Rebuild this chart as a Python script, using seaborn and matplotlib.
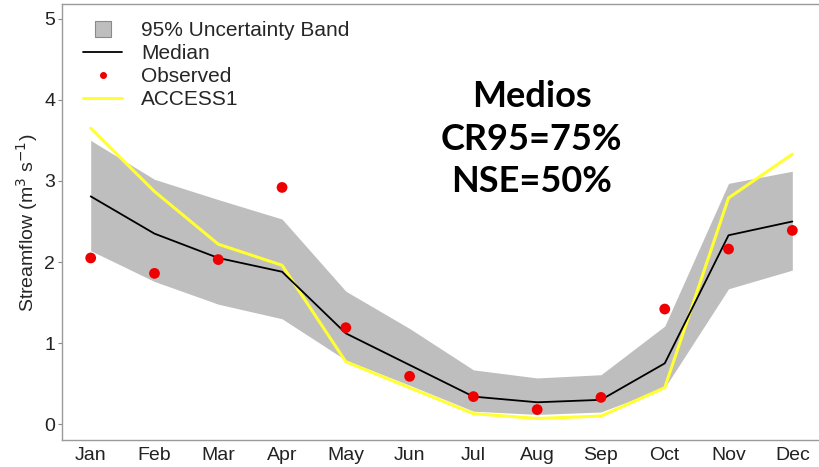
import pandas as pd
import numpy as np
import matplotlib.pyplot as plt
import seaborn as sns
from matplotlib.lines import Line2D

sns.set_theme(style="white")
plt.rcParams['font.family'] = ['Liberation Sans', 'DejaVu Sans']

# =========================
# DATA
# =========================
months = ["Jan", "Feb", "Mar", "Apr", "May", "Jun",
          "Jul", "Aug", "Sep", "Oct", "Nov", "Dec"]
band_upper = [3.50, 3.02, 2.77, 2.53, 1.64, 1.18, 0.67, 0.57, 0.61, 1.21, 2.97, 3.12]
band_lower = [2.14, 1.76, 1.48, 1.30, 0.79, 0.48, 0.16, 0.12, 0.15, 0.45, 1.67, 1.90]
median = [2.81, 2.35, 2.05, 1.88, 1.12, 0.73, 0.34, 0.27, 0.30, 0.75, 2.33, 2.50]
access1 = [3.65, 2.87, 2.22, 1.96, 0.77, 0.45, 0.13, 0.07, 0.10, 0.45, 2.79, 3.33]
observed = [2.05, 1.86, 2.03, 2.92, 1.19, 0.59, 0.34, 0.18, 0.33, 1.42, 2.16, 2.39]

df = pd.DataFrame({
    "month": np.arange(1, 13),
    "upper": band_upper,
    "lower": band_lower,
    "median": median,
    "access1": access1,
    "observed": observed,
})

# =========================
# PLOT
# =========================
fig = plt.figure(figsize=(8.19, 4.67), dpi=100)
ax = fig.add_axes([0.0757, 0.057, 0.94, 0.934])

ax.fill_between(df["month"], df["lower"], df["upper"], color="#bebebe", lw=0, zorder=1)
sns.lineplot(data=df, x="month", y="median", color="black", lw=1.3, ax=ax, zorder=3)
sns.lineplot(data=df, x="month", y="access1", color="#ffff33", lw=2.2, ax=ax, zorder=2)
sns.scatterplot(data=df, x="month", y="observed", color="#ee0000", s=60,
                edgecolor="none", ax=ax, zorder=4)

ax.set_xlim(0.55, 12.62)
ax.set_ylim(-0.2, 5.18)
ax.set_xticks(df["month"])
ax.set_xticklabels(months)
ax.set_yticks([0, 1, 2, 3, 4, 5])
ax.tick_params(axis="both", labelsize=14, colors="#222222")
ax.tick_params(axis="y", left=True, length=3, width=0.8, color="#888888", pad=2)
ax.tick_params(axis="x", bottom=False, pad=-1.5)
ax.set_xlabel("")
ax.set_ylabel("Streamflow (m$^3$ s$^{-1}$)", fontsize=14, labelpad=3)

for side in ["left", "bottom", "top", "right"]:
    ax.spines[side].set_color("#9a9a9a")
    ax.spines[side].set_linewidth(1.0)

handles = [
    Line2D([], [], color="#bebebe", marker="s", ls="none", markersize=11,
           markeredgecolor="#8a8a8a", markeredgewidth=0.8),
    Line2D([], [], color="black", lw=1.3),
    Line2D([], [], color="#ee0000", marker="o", ls="none", markersize=4),
    Line2D([], [], color="#ffff33", lw=2.2),
]
labels = ["95% Uncertainty Band", "Median", "Observed", "ACCESS1"]
ax.legend(handles, labels, loc="upper left", frameon=False, fontsize=15,
          handlelength=1.9, labelspacing=0.2, borderaxespad=0.3,
          handletextpad=0.9, bbox_to_anchor=(0.008, 0.995))

ax.text(0.61, 0.69, "Medios\nCR95=75%\nNSE=50%", transform=ax.transAxes,
        ha="center", va="center", fontsize=26, fontweight="bold",
        family=["Lato", "DejaVu Sans"], linespacing=1.35, color="black")

fig.savefig("out.png", dpi=100)
